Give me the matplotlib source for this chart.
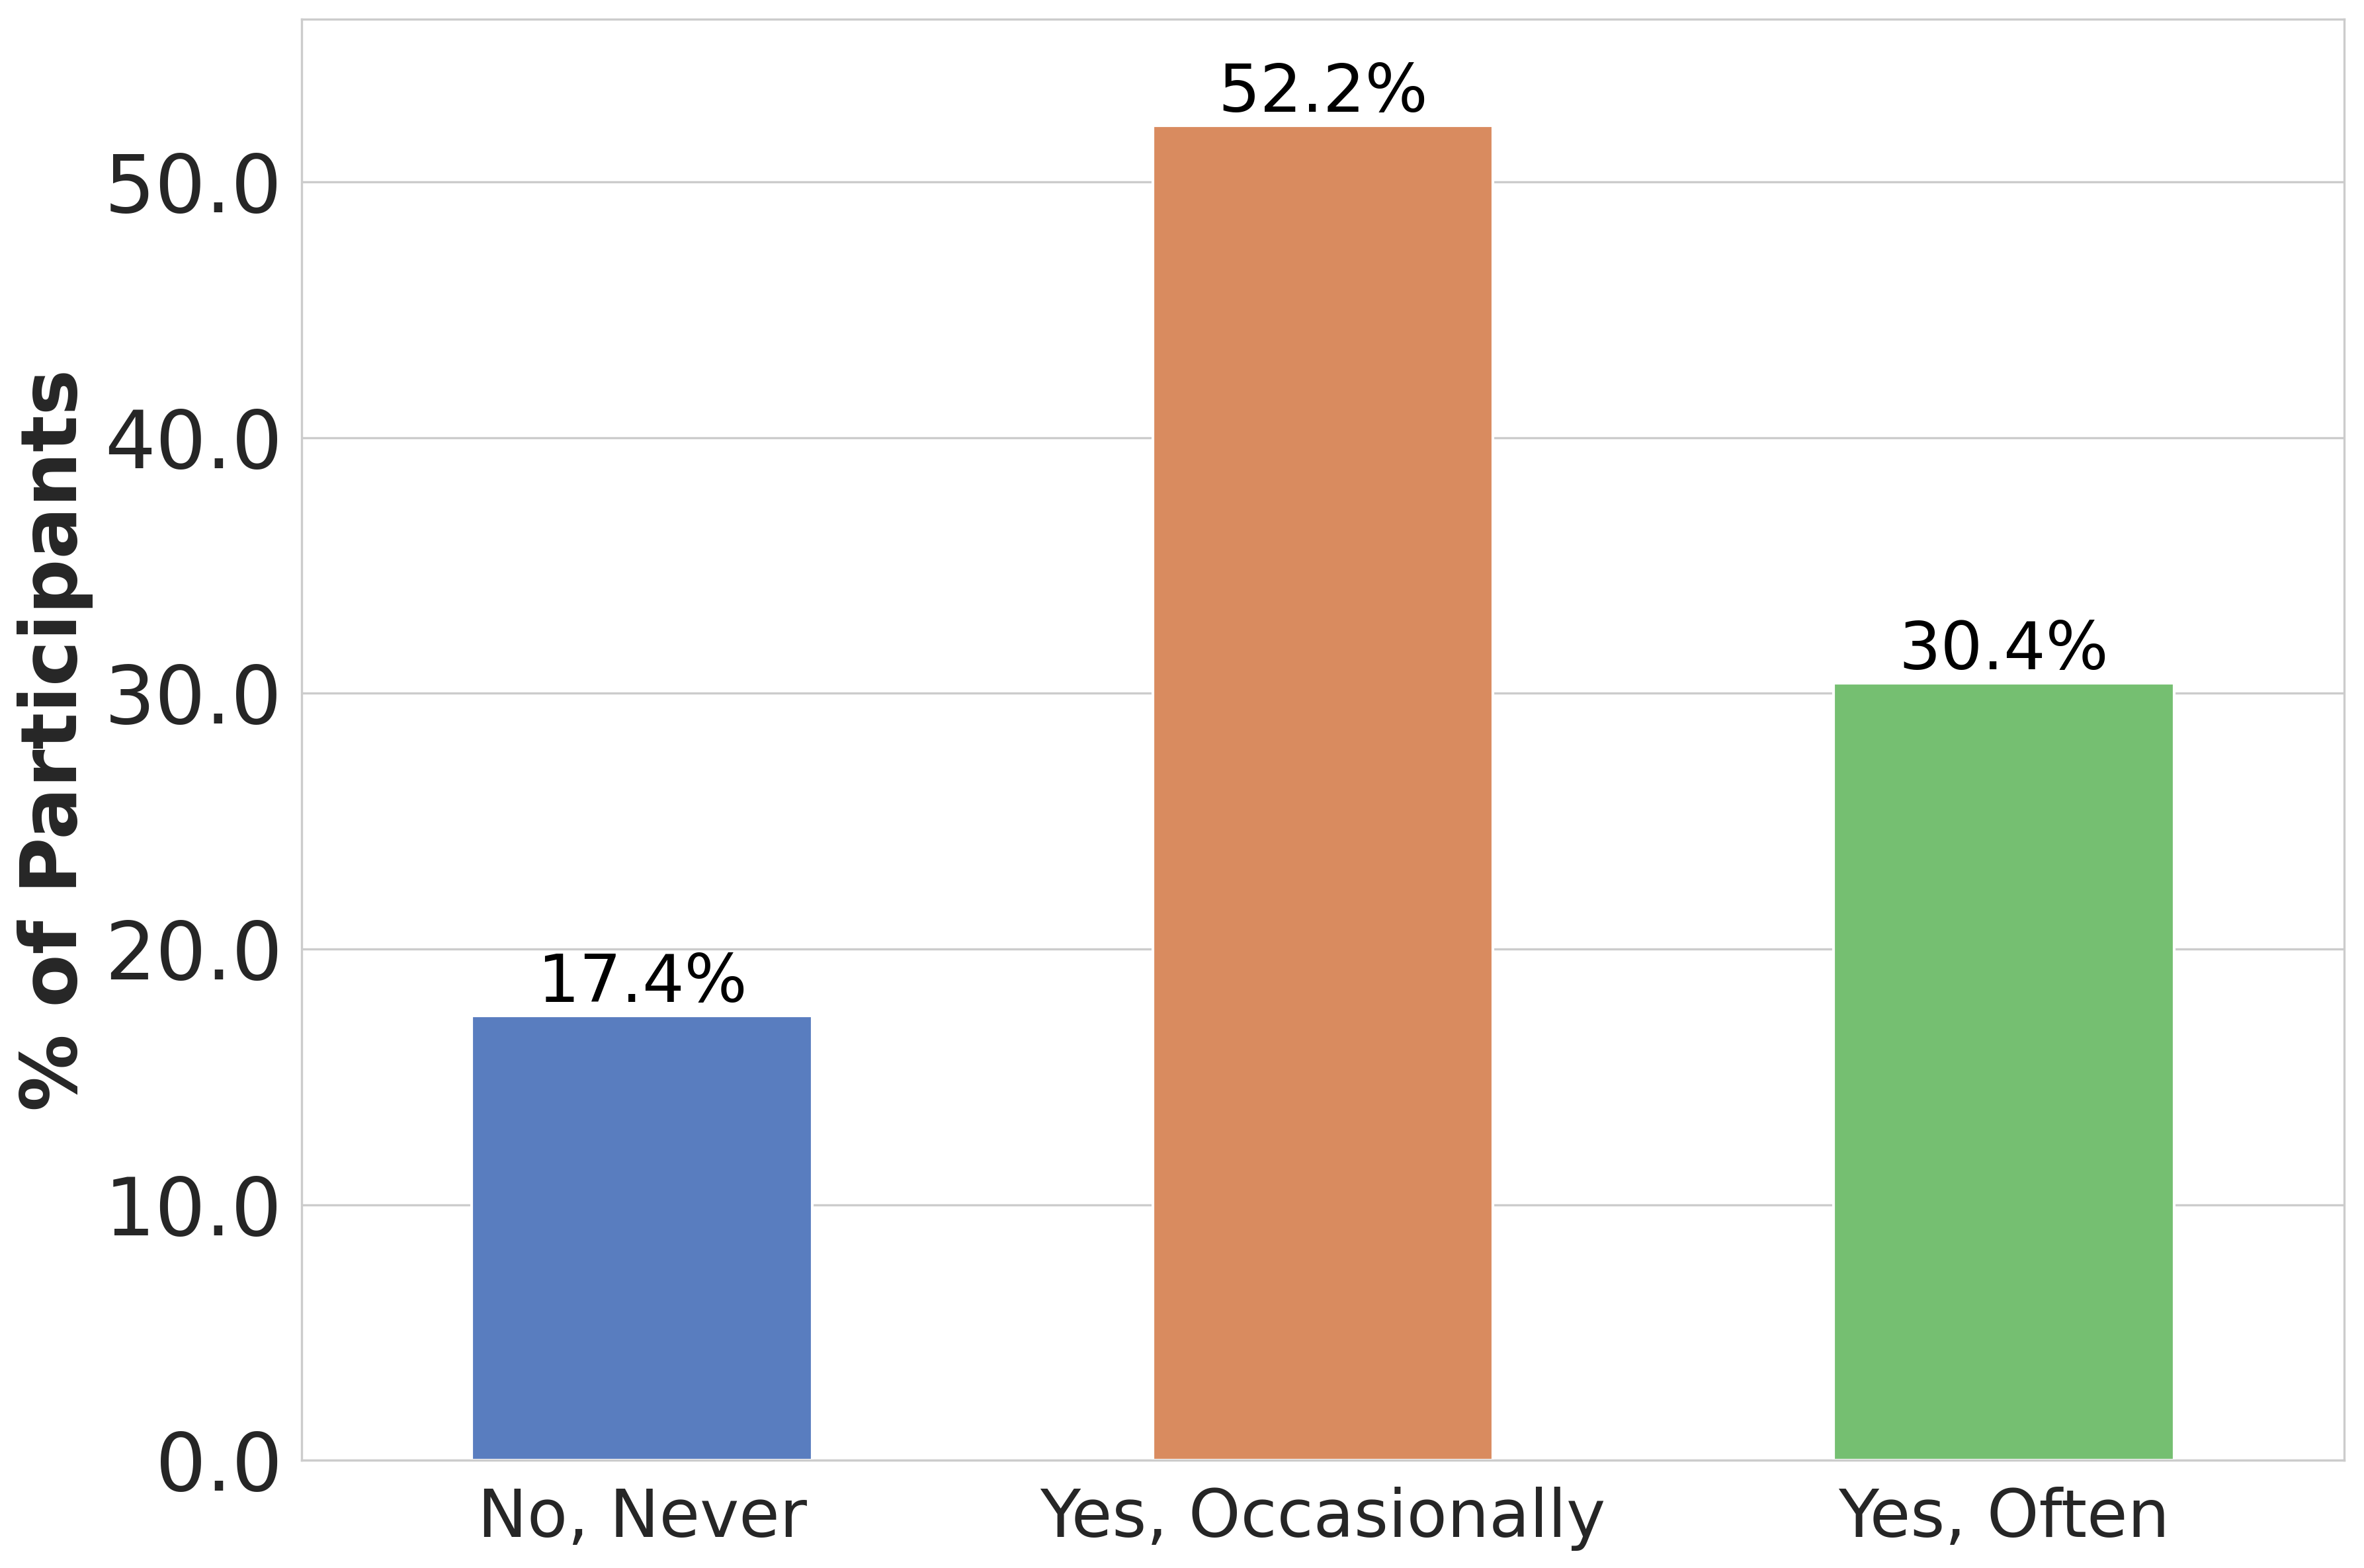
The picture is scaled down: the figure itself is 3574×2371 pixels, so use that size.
import matplotlib
matplotlib.use("Agg")
import matplotlib.pyplot as plt
import seaborn as sns

# data
categories = ["No, Never", "Yes, Occasionally", "Yes, Often"]
percentages = [17.4, 52.2, 30.4]

sns.set_style("whitegrid")
plt.rcParams["font.family"] = ["DejaVu Sans"]

fig = plt.figure(figsize=(3574 / 300, 2371 / 300), dpi=300)
ax = fig.add_axes([0.1276, 0.0687, 0.9916 - 0.1276, 0.9878 - 0.0687])

sns.barplot(x=categories, y=percentages, hue=categories, palette="muted",
            width=0.5, ax=ax, legend=False)

# value labels on top of the bars
for i, v in enumerate(percentages):
    ax.text(i, v, f"{v}%", ha="center", va="bottom", fontsize=24, color="black")

ax.set_xlim(-0.5, 2.5)
ax.set_ylim(0, max(percentages) * 1.08)
ax.yaxis.set_major_formatter(matplotlib.ticker.FormatStrFormatter("%.1f"))
ax.tick_params(axis="y", labelsize=29)
ax.tick_params(axis="x", labelsize=24, pad=6)
ax.set_ylabel("% of Participants", fontsize=28, fontweight="bold")
ax.set_xlabel("")

fig.savefig("out.png", dpi=300)
